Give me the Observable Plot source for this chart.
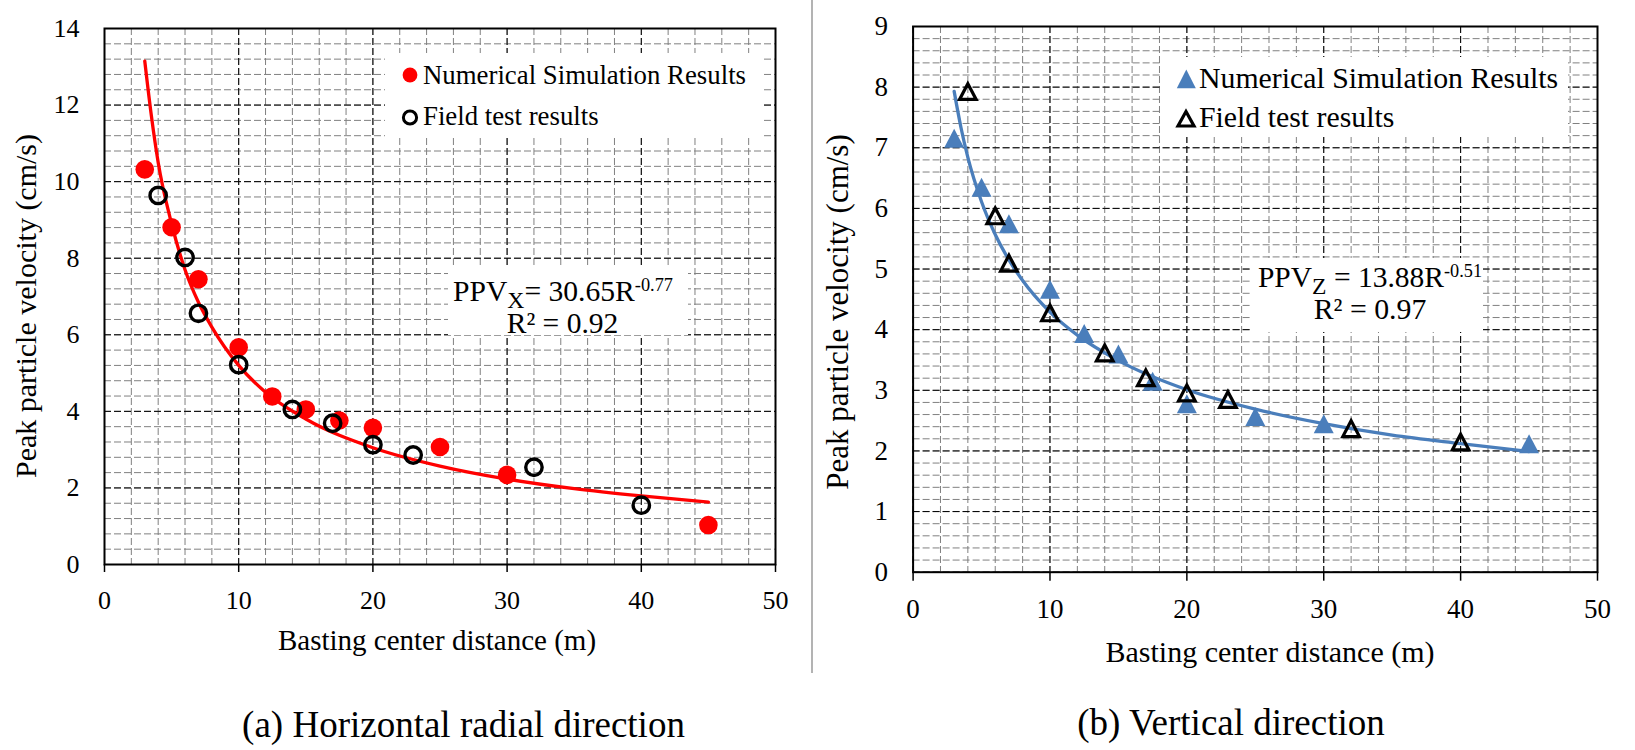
<!DOCTYPE html>
<html>
<head>
<meta charset="utf-8">
<script src="https://cdn.jsdelivr.net/npm/d3@7"></script>
<script src="https://cdn.jsdelivr.net/npm/@observablehq/plot@0.6"></script>
<style>
  html, body { margin: 0; padding: 0; background: #fff; }
  #page { position: relative; width: 1635px; height: 750px; overflow: hidden; background: #fff; }
  #page > svg { position: absolute; }
</style>
</head>
<body>
<div id="page"></div>
<script>
// ---------- data ----------
const xTickLabels = [0, 10, 20, 30, 40, 50];
const leftYTickLabels = [0, 2, 4, 6, 8, 10, 12, 14];
const rightYTickLabels = [0, 1, 2, 3, 4, 5, 6, 7, 8, 9];

// (a) Horizontal radial direction
const leftSimX   = [3, 5, 7, 10, 12.5, 15, 17.5, 20, 25, 30, 45];
const leftSimY   = [10.32, 8.81, 7.45, 5.67, 4.39, 4.05, 3.76, 3.57, 3.07, 2.34, 1.03];
const leftFieldX = [4, 6, 7, 10, 14, 17, 20, 23, 32, 40];
const leftFieldY = [9.64, 8.02, 6.56, 5.22, 4.05, 3.69, 3.13, 2.86, 2.54, 1.55];
const leftFitX   = [3, 3.5, 4, 5, 6, 7, 8, 10, 12, 15, 20, 25, 30, 35, 40, 45];
const leftFitY   = [13.15, 11.7, 10.5, 8.9, 7.7, 6.85, 6.2, 5.2, 4.5, 3.8, 3.05, 2.57, 2.23, 1.98, 1.79, 1.63];

// (b) Vertical direction
const rightSimX   = [3, 5, 7, 10, 12.5, 15, 17.5, 20, 25, 30, 45];
const rightSimY   = [7.15, 6.34, 5.74, 4.66, 3.93, 3.59, 3.14, 2.77, 2.56, 2.44, 2.11];
const rightFieldX = [4, 6, 7, 10, 14, 17, 20, 23, 32, 40];
const rightFieldY = [7.92, 5.87, 5.09, 4.27, 3.61, 3.2, 2.95, 2.84, 2.36, 2.14];
const rightFitX   = [3, 3.5, 4, 5, 6, 7, 8, 10, 12, 15, 20, 25, 30, 35, 40, 45];
const rightFitY   = [7.93, 7.33, 6.84, 6.11, 5.57, 5.15, 4.81, 4.29, 3.91, 3.49, 3.01, 2.69, 2.45, 2.26, 2.12, 1.99];

const xLabel = "Basting center distance (m)";
const yLabel = "Peak particle velocity (cm/s)";
const legendSim = "Numerical Simulation Results";
const legendField = "Field test results";
const captions = ["(a) Horizontal radial direction", "(b) Vertical direction"];

// ---------- helpers ----------
const SERIF = "'Liberation Serif', 'Times New Roman', Tinos, serif";
const zip = (xs, ys) => xs.map((x, i) => ({x, y: ys[i]}));
const RED = "#ff0000";
const BLUE = "#4a7ebb";
const MINOR = "#808080";
const DASH = "7,3";

// Excel-style triangle: bounding box centred on the point
const excelTriangle = {
  draw(context, size) {
    const r = Math.sqrt(size / Math.PI);
    context.moveTo(0, -r);
    context.lineTo(r, r * 0.9);
    context.lineTo(-r, r * 0.9);
    context.closePath();
  }
};

function chart({yTicks, yMinorStep, yMax, sim, field, fit, fitColor, simMark, fieldMark, fontSize, tickSize, tickPadding, margins, width, height}) {
  const xMinor = d3.range(0, 50.001, 2);
  const yMinor = d3.range(0, yMax + 1e-9, yMinorStep);
  return Plot.plot({
    width, height,
    marginLeft: margins[0], marginRight: margins[1], marginTop: margins[2], marginBottom: margins[3],
    style: {fontFamily: SERIF, fontSize: fontSize + "px", color: "#000", background: "transparent", overflow: "visible"},
    x: {domain: [0, 50]},
    y: {domain: [0, yMax]},
    marks: [
      Plot.gridX(xMinor, {stroke: MINOR, strokeOpacity: 1, strokeWidth: 1, strokeDasharray: DASH}),
      Plot.gridY(yMinor, {stroke: MINOR, strokeOpacity: 1, strokeWidth: 1, strokeDasharray: DASH}),
      Plot.gridX(xTickLabels, {stroke: "#000", strokeOpacity: 1, strokeWidth: 1, strokeDasharray: DASH}),
      Plot.gridY(yTicks, {stroke: "#000", strokeOpacity: 1, strokeWidth: 1, strokeDasharray: DASH}),
      Plot.frame({stroke: "#000", strokeWidth: 2}),
      Plot.axisX(xTickLabels, {tickSize, tickPadding, strokeWidth: 1.5, label: null, fontSize, fontFamily: SERIF, tickFormat: d => String(d)}),
      Plot.axisY(yTicks, {tickSize: 0, tickPadding: 25, label: null, fontSize, fontFamily: SERIF, tickFormat: d => String(d)}),
      Plot.line(fit, {x: "x", y: "y", stroke: fitColor, strokeWidth: 3.3, curve: "monotone-x"}),
      Plot.dot(sim, {x: "x", y: "y", ...simMark}),
      Plot.dot(field, {x: "x", y: "y", ...fieldMark})
    ]
  });
}

const page = document.getElementById("page");

const left = chart({
  yTicks: leftYTickLabels, yMinorStep: 0.4, yMax: 14,
  sim: zip(leftSimX, leftSimY), field: zip(leftFieldX, leftFieldY), fit: zip(leftFitX, leftFitY),
  fitColor: RED,
  simMark: {r: 9.3, fill: RED, stroke: "none"},
  fieldMark: {r: 8.2, fill: "none", stroke: "#000", strokeWidth: 3.4},
  fontSize: 26, tickSize: 8, tickPadding: 18,
  margins: [104, 25, 28, 116], width: 800, height: 680
});
left.style.left = "0px"; left.style.top = "0px";
page.appendChild(left);

const right = chart({
  yTicks: rightYTickLabels, yMinorStep: 0.2, yMax: 9,
  sim: zip(rightSimX, rightSimY), field: zip(rightFieldX, rightFieldY), fit: zip(rightFitX, rightFitY),
  fitColor: BLUE,
  simMark: {r: 10, symbol: excelTriangle, fill: BLUE, stroke: "none"},
  fieldMark: {r: 8.3, symbol: excelTriangle, fill: "none", stroke: "#000", strokeWidth: 3.2},
  fontSize: 27, tickSize: 9, tickPadding: 18,
  margins: [92.6, 23, 26, 108.3], width: 800, height: 680
});
right.style.left = "820px"; right.style.top = "0px";
page.appendChild(right);

// ---------- overlay: titles, legends, equations, captions ----------
const ov = d3.create("svg")
  .attr("width", 1635).attr("height", 750)
  .style("left", "0px").style("top", "0px")
  .style("font-family", SERIF).attr("fill", "#000");

// divider
ov.append("line").attr("x1", 812).attr("x2", 812).attr("y1", 0).attr("y2", 673)
  .attr("stroke", "#9a9a9a").attr("stroke-width", 1.5);

// axis titles
ov.append("text").attr("x", 437).attr("y", 650).attr("text-anchor", "middle").attr("font-size", 29).text(xLabel);
ov.append("text").attr("x", 1270).attr("y", 662).attr("text-anchor", "middle").attr("font-size", 30).text(xLabel);
ov.append("text").attr("transform", "translate(36,306) rotate(-90)").attr("text-anchor", "middle").attr("font-size", 30).text(yLabel);
ov.append("text").attr("transform", "translate(848,312) rotate(-90)").attr("text-anchor", "middle").attr("font-size", 31).text(yLabel);

// legend boxes
ov.append("rect").attr("x", 385).attr("y", 53).attr("width", 378).attr("height", 84).attr("fill", "#fff");
ov.append("rect").attr("x", 1160).attr("y", 57).attr("width", 408).attr("height", 80).attr("fill", "#fff");
// left legend
ov.append("circle").attr("cx", 410).attr("cy", 75).attr("r", 7.4).attr("fill", RED);
ov.append("text").attr("x", 423).attr("y", 83.5).attr("font-size", 26.8).text(legendSim);
ov.append("circle").attr("cx", 410).attr("cy", 117.5).attr("r", 6.6).attr("fill", "none").attr("stroke", "#000").attr("stroke-width", 3);
ov.append("text").attr("x", 423).attr("y", 125).attr("font-size", 26.8).text(legendField);
// right legend
ov.append("path").attr("d", "M1186.3,69.5 L1195.8,88.3 L1176.8,88.3 Z").attr("fill", BLUE);
ov.append("text").attr("x", 1199).attr("y", 87.7).attr("font-size", 29.8).text(legendSim);
ov.append("path").attr("d", "M1186,111.5 L1194,126 L1178,126 Z").attr("fill", "none").attr("stroke", "#000").attr("stroke-width", 3.2);
ov.append("text").attr("x", 1199).attr("y", 127.3).attr("font-size", 29.8).text(legendField);

// equation boxes
ov.append("rect").attr("x", 448).attr("y", 268).attr("width", 240).attr("height", 67).attr("fill", "#fff");
ov.append("rect").attr("x", 1250).attr("y", 258).attr("width", 233).attr("height", 74).attr("fill", "#fff");

function equation(cx, y, size, sub, rest, sup) {
  const t = ov.append("text").attr("x", cx).attr("y", y).attr("text-anchor", "middle").attr("font-size", size);
  t.append("tspan").text("PPV");
  t.append("tspan").attr("dy", 7).attr("font-size", size * 0.8).text(sub);
  t.append("tspan").attr("dy", -7).text(rest);
  t.append("tspan").attr("dy", -9.5).attr("font-size", size * 0.62).text(sup);
}
equation(563, 300.6, 29.6, "X", "= 30.65R", "-0.77");
ov.append("text").attr("x", 562.5).attr("y", 333.4).attr("text-anchor", "middle").attr("font-size", 29.5).text("R\u00b2 = 0.92");
equation(1370, 286.7, 29.5, "Z", " = 13.88R", "-0.51");
ov.append("text").attr("x", 1370).attr("y", 319.3).attr("text-anchor", "middle").attr("font-size", 29.8).text("R\u00b2 = 0.97");

// captions
ov.append("text").attr("x", 463.5).attr("y", 737).attr("text-anchor", "middle").attr("font-size", 37).text(captions[0]);
ov.append("text").attr("x", 1231).attr("y", 735).attr("text-anchor", "middle").attr("font-size", 37).text(captions[1]);

page.appendChild(ov.node());
</script>
</body>
</html>
